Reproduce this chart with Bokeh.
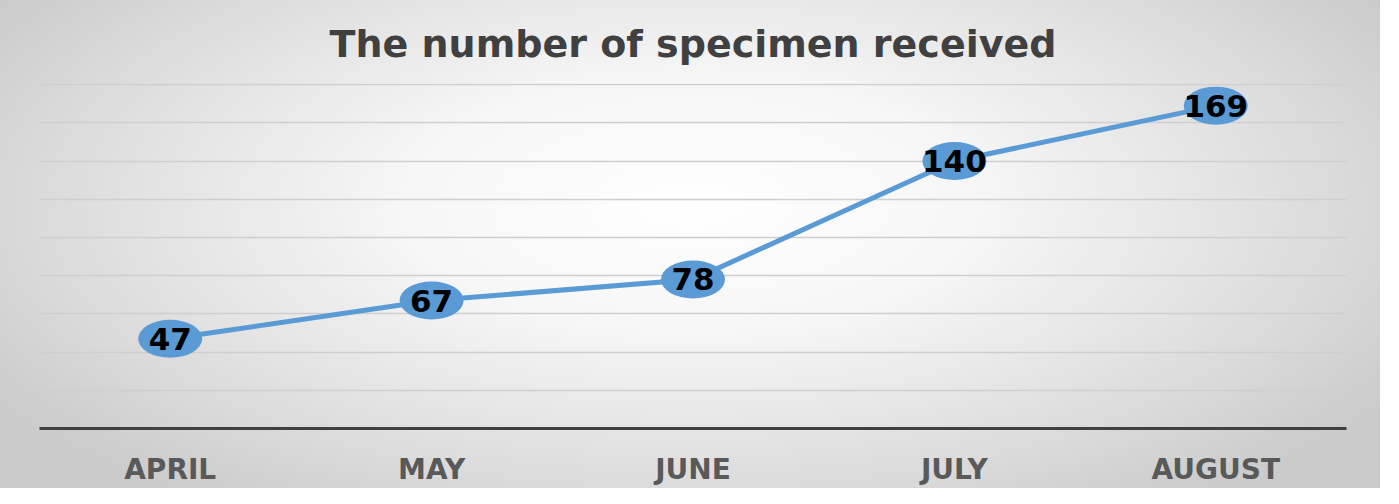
from bokeh.plotting import figure
from bokeh.models import ColumnDataSource, FixedTicker, Title
from bokeh.core.properties import value
from bokeh.embed import file_html
from bokeh.resources import INLINE

months = ["APRIL", "MAY", "JUNE", "JULY", "AUGUST"]
specimens = [47, 67, 78, 140, 169]
y_ticks = [0, 20, 40, 60, 80, 100, 120, 140, 160, 180]
title_text = "The number of specimen received"

src = ColumnDataSource(dict(x=months, y=specimens, lab=[str(v) for v in specimens]))

p = figure(x_range=months, y_range=(0, 180.6), width=1380, height=488,
           output_backend="svg", toolbar_location=None,
           min_border_left=39, min_border_right=34, min_border_top=83, min_border_bottom=50)
p.styles = {"background": "radial-gradient(ellipse 60% 75% at 50% 42%, #ffffff 0%, #f6f6f6 35%, #e0e0e0 70%, #cbcbcb 100%)"}
p.background_fill_alpha = 0
p.border_fill_alpha = 0
p.outline_line_color = None

p.title = Title(text=title_text, align="center", text_font="DejaVu Sans",
                text_font_size="38px", text_font_style="bold", text_color="#404040",
                offset=0, standoff=36)

p.xgrid.grid_line_color = None
p.yaxis.visible = False
p.ygrid.ticker = FixedTicker(ticks=y_ticks)
p.ygrid.grid_line_color = "#cfcfcf"
p.ygrid.grid_line_width = 1.5

p.xaxis.axis_line_color = "#404040"
p.xaxis.axis_line_width = 3
p.xaxis.major_tick_line_color = None
p.xaxis.minor_tick_line_color = None
p.xaxis.major_label_text_font = "DejaVu Sans"
p.xaxis.major_label_text_font_style = "bold"
p.xaxis.major_label_text_font_size = "28px"
p.xaxis.major_label_text_color = "#595959"
p.xaxis.major_label_standoff = 18

p.line(x="x", y="y", source=src, line_width=5, line_color="#5b9bd5")
p.ellipse(x="x", y="y", width=64, height=38, width_units="screen", height_units="screen",
          source=src, fill_color="#5b9bd5", line_color=None)
p.text(x="x", y="y", text="lab", source=src, text_align="center", text_baseline="middle",
       text_font=value("DejaVu Sans"), text_font_style="bold", text_font_size="31px",
       text_color="#000000")

open("out.html", "w").write(file_html(p, INLINE))
